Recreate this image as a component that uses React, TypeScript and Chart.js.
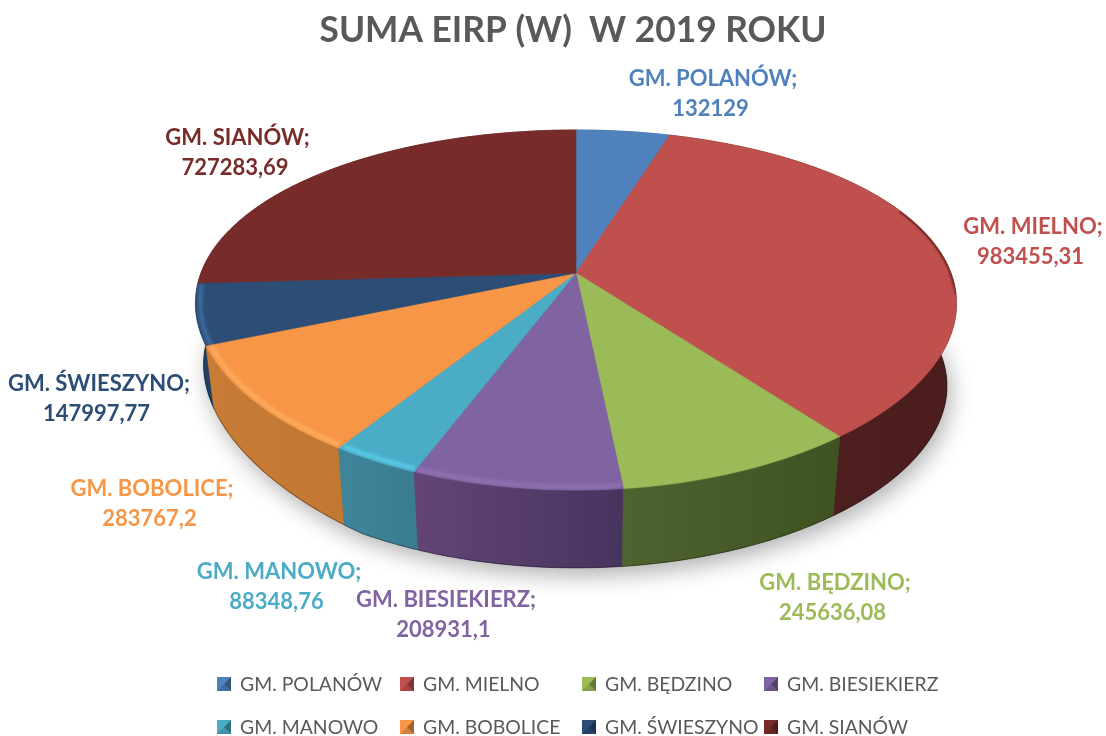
import React, { useEffect, useRef } from "react";
import { Chart, registerables } from "chart.js";

Chart.register(...registerables);

const categories = ["GM. POLANÓW", "GM. MIELNO", "GM. BĘDZINO", "GM. BIESIEKIERZ", "GM. MANOWO", "GM. BOBOLICE", "GM. ŚWIESZYNO", "GM. SIANÓW"];
const values = [132129, 983455.31, 245636.08, 208931.1, 88348.76, 283767.2, 147997.77, 727283.69];

const faceColors = ["#4f81bd", "#c0504d", "#9bbb59", "#8064a2", "#4bacc6", "#f79646", "#2c4d75", "#772c2a"];
const wallLeft = ["#3a5f8c", "#4f2020", "#4e6330", "#634575", "#3f8599", "#c87c35", "#1f4468", "#561f1e"];
const wallRight = ["#3a5f8c", "#4b1d1d", "#3f5321", "#47345e", "#3a7c90", "#c27832", "#1c3e60", "#561f1e"];
const rimColors = ["#4f81bd", "#c0504d", "#9bbb59", "#8f70b3", "#58c8e6", "#fbab5e", "#3c6b9e", "#772c2a"];
const wallOrder = [7, 0, 1, 6, 5, 4, 3, 2];

const labelCenters: [number, number][] = [[713, 79], [1033, 227], [835, 583], [446, 600], [279, 572], [152, 489], [99, 384], [237.5, 138]];
const legendCols = [217, 400, 582, 764];
const legendRows = [684, 727];

const P = { cx: 576, cy: 273, rx: 375, ry: 172.4, kx: 0.17, ky: 0.2055, scale: 0.975, drop: 83.4, tiltY: 44, tiltX: 3 };

// The reference's 3D view compresses the far-left front of the disc slightly.
function warp(a: number) {
  const t = ((a + Math.PI / 2) * 180) / Math.PI;
  const q = (t - 230) / 18;
  return a + (-1.6 * q * Math.exp((-q * q) / 2) * Math.PI) / 180;
}

function project(angle: number, r: number, bottom: boolean): [number, number] {
  const a = warp(angle);
  const u = Math.cos(a) * r;
  const v = -Math.sin(a) * r;
  const s = bottom ? P.scale : 1;
  const lean = bottom ? Math.max(0, -u - 0.5) : 0;
  return [
    P.cx + (s * P.rx * u) / (1 + P.kx * v) - P.tiltX * lean,
    P.cy + (bottom ? P.drop : 0) - (s * P.ry * v) / (1 + P.ky * v) - P.tiltY * lean,
  ];
}

function arcPoints(a0: number, a1: number, r: number, bottom: boolean) {
  const n = Math.max(2, Math.ceil(Math.abs(a1 - a0) / 0.012));
  const pts: [number, number][] = [];
  for (let i = 0; i <= n; i++) pts.push(project(a0 + ((a1 - a0) * i) / n, r, bottom));
  return pts;
}

function trace(ctx: CanvasRenderingContext2D, pts: [number, number][], close = false) {
  ctx.beginPath();
  pts.forEach((p, i) => (i ? ctx.lineTo(p[0], p[1]) : ctx.moveTo(p[0], p[1])));
  if (close) ctx.closePath();
}

const pie3d = {
  id: "pie3d",
  beforeDatasetsDraw(chart: any) {
    const ctx: CanvasRenderingContext2D = chart.ctx;
    const arcs = chart.getDatasetMeta(0).data;
    const tau = Math.PI * 2;
    const full = arcPoints(-Math.PI / 2, tau - Math.PI / 2, 1, true);
    ctx.save();
    ctx.shadowColor = "rgba(0,0,0,0.30)";
    ctx.shadowBlur = 22;
    ctx.shadowOffsetX = 4;
    ctx.shadowOffsetY = 8;
    ctx.fillStyle = "#555";
    trace(ctx, full, true);
    ctx.fill();
    ctx.restore();

    wallOrder.forEach((i) => {
      const { startAngle: a0, endAngle: a1 } = arcs[i];
      const top = arcPoints(a0, a1, 1, false);
      const bot = arcPoints(a1, a0, 1, true);
      const xs = top.concat(bot).map((p) => p[0]);
      const g = ctx.createLinearGradient(Math.min(...xs), 0, Math.max(...xs), 0);
      g.addColorStop(0, wallLeft[i]);
      g.addColorStop(1, wallRight[i]);
      ctx.fillStyle = g;
      trace(ctx, top.concat(bot), true);
      ctx.fill();
      ctx.strokeStyle = g;
      ctx.lineWidth = 0.6;
      ctx.stroke();
    });
    ctx.save();
    ctx.strokeStyle = "rgba(25,20,25,0.45)";
    ctx.lineWidth = 1.4;
    trace(ctx, full, true);
    ctx.clip();
    trace(ctx, full, true);
    ctx.stroke();
    ctx.restore();

    arcs.forEach((el: any, i: number) => {
      const { startAngle: a0, endAngle: a1 } = el;
      const path: [number, number][] = [[P.cx, P.cy], ...arcPoints(a0, a1, 1, false)];
      ctx.fillStyle = faceColors[i];
      trace(ctx, path, true);
      ctx.fill();
      ctx.strokeStyle = faceColors[i];
      ctx.lineWidth = 0.6;
      ctx.stroke();
    });

    // Soft dark edge on the far right of the largest slice
    ctx.save();
    trace(ctx, arcPoints(-Math.PI / 2, tau - Math.PI / 2, 1, false), true);
    ctx.clip();
    ctx.filter = "blur(1px)";
    ctx.strokeStyle = "#5a2322";
    ctx.lineWidth = 3;
    trace(ctx, arcPoints(-0.4, 0.12, 1, false));
    ctx.stroke();
    ctx.restore();

    // Bevel along the front rim only
    arcs.forEach((el: any, i: number) => {
      const a0 = Math.max(el.startAngle, 0.08) + 0.004;
      const a1 = Math.min(el.endAngle, Math.PI + 0.25) - 0.004;
      if (a1 <= a0) return;
      ctx.save();
      ctx.filter = "blur(1.6px)";
      ctx.strokeStyle = rimColors[i];
      ctx.lineWidth = 4.5;
      trace(ctx, arcPoints(a0, a1, 0.988, false));
      ctx.stroke();
      ctx.restore();
    });
    return false;
  },
  afterDraw(chart: any) {
    const ctx: CanvasRenderingContext2D = chart.ctx;
    ctx.save();
    ctx.textAlign = "center";
    ctx.textBaseline = "middle";
    ctx.font = "bold 22px Lato";
    categories.forEach((c, i) => {
      const [x, y] = labelCenters[i];
      ctx.fillStyle = faceColors[i];
      ctx.fillText(c + ";", x, y);
      ctx.fillText(String(values[i]).replace(".", ","), x - 2.5, y + 30);
    });
    ctx.textAlign = "left";
    ctx.font = "19.4px Lato";
    categories.forEach((c, i) => {
      const x = legendCols[i % 4];
      const y = legendRows[Math.floor(i / 4)];
      const s = 14;
      const y0 = y - s / 2;
      ctx.fillStyle = faceColors[i];
      ctx.fillRect(x, y0, s, s);
      ctx.fillStyle = "rgba(0,0,0,0.35)";
      trace(ctx, [[x + s, y0], [x + s, y0 + s], [x + s / 2, y]], true);
      ctx.fill();
      ctx.fillStyle = "rgba(0,0,0,0.15)";
      trace(ctx, [[x, y0 + s], [x + s, y0 + s], [x + s / 2, y]], true);
      ctx.fill();
      ctx.fillStyle = "#595959";
      ctx.fillText(c, x + 23, y + 1);
    });
    ctx.restore();
  },
};

export default function App() {
  const ref = useRef<HTMLCanvasElement>(null);
  useEffect(() => {
    const chart = new Chart(ref.current as HTMLCanvasElement, {
      type: "pie",
      data: { labels: categories, datasets: [{ data: values, backgroundColor: faceColors, borderWidth: 0 }] },
      options: {
        responsive: false,
        animation: false,
        layout: { padding: { left: 40 } },
        plugins: {
          legend: { display: false },
          tooltip: { enabled: false },
          title: {
            display: true,
            fullSize: false,
            text: "SUMA EIRP (W)  W 2019 ROKU",
            color: "#595959",
            font: { family: "Lato", size: 35.3, weight: "bold" },
            padding: { top: 9, bottom: 10 },
          },
        },
      },
      plugins: [pie3d],
    } as any);
    return () => chart.destroy();
  }, []);
  return (
    <div style={{ position: "fixed", left: 0, top: 0, width: 1106, height: 736, background: "#fff" }}>
      <canvas ref={ref} width={1106} height={736} style={{ display: "block" }} />
    </div>
  );
}
